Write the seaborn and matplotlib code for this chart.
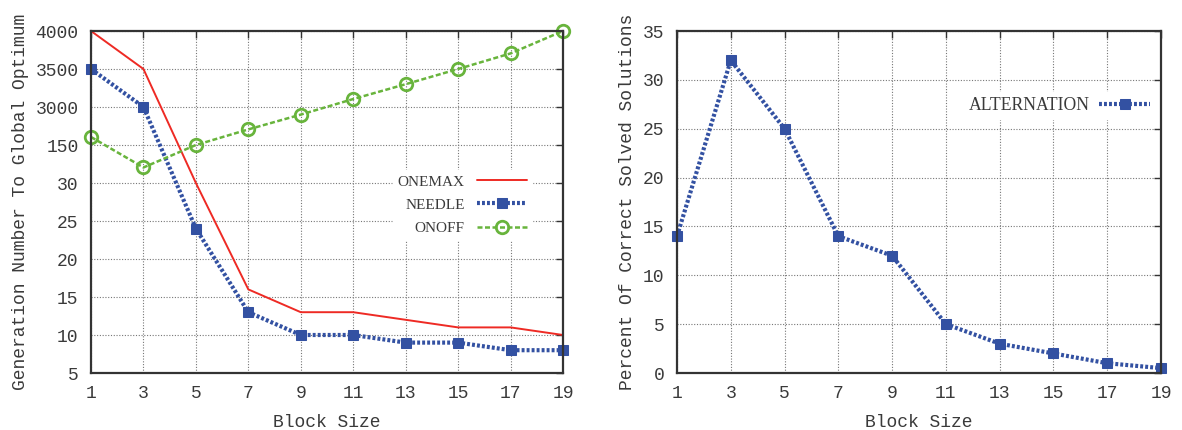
import matplotlib
matplotlib.use("Agg")
import matplotlib.pyplot as plt
import numpy as np
import pandas as pd
import seaborn as sns

# block sizes shared by both panels
block_size = [1, 3, 5, 7, 9, 11, 13, 15, 17, 19]

# left panel: generation number to global optimum (odd gnuplot-style axis)
onemax = [4000, 3500, 30, 16, 13, 13, 12, 11, 11, 10]
needle = [3500, 3000, 24, 13, 10, 10, 9, 9, 8, 8]
onoff = [750, 79, 150, 1320, 2430, 3105, 3300, 3500, 3705, 4000]
left_ticks = [5, 10, 15, 20, 25, 30, 150, 3000, 3500, 4000]

# right panel: percent of correct solved solutions
alternation = [14, 32, 25, 14, 12, 5, 3, 2, 1, 0.5]
right_ticks = [0, 5, 10, 15, 20, 25, 30, 35]

red = "#ee2a24"
blue = "#3351a2"
green = "#68b43c"

sns.set_style("white")
plt.rcParams["font.family"] = ["Liberation Mono", "DejaVu Sans"]
plt.rcParams["text.color"] = "#3a3a3a"
plt.rcParams["axes.labelcolor"] = "#3a3a3a"
plt.rcParams["xtick.color"] = "#333333"
plt.rcParams["ytick.color"] = "#333333"
plt.rcParams["xtick.labelcolor"] = "#3a3a3a"
plt.rcParams["ytick.labelcolor"] = "#3a3a3a"

df_left = pd.DataFrame({"block": block_size, "ONEMAX": onemax, "NEEDLE": needle, "ONOFF": onoff})
df_right = pd.DataFrame({"block": block_size, "ALTERNATION": alternation})

fig = plt.figure(figsize=(11.82, 4.30), dpi=100)
ax1 = fig.add_axes([91 / 1182, 57 / 430, 472 / 1182, 342 / 430])
ax2 = fig.add_axes([677 / 1182, 57 / 430, 484 / 1182, 342 / 430])

# piecewise mapping so each labelled value gets one equal step
tick_pos = np.arange(len(left_ticks), dtype=float)
def fwd(v):
    return np.interp(v, left_ticks, tick_pos)
def inv(p):
    return np.interp(p, tick_pos, left_ticks)

ax1.set_yscale("function", functions=(fwd, inv))

needle_style = dict(lw=3, linestyle=(0, (0.7, 0.5)), marker="s", ms=7,
                    markeredgecolor=blue, markerfacecolor=blue, color=blue)

sns.lineplot(data=df_left, x="block", y="ONEMAX", ax=ax1, color=red, lw=1.4,
             label="ONEMAX", errorbar=None)
sns.lineplot(data=df_left, x="block", y="NEEDLE", ax=ax1, label="NEEDLE",
             errorbar=None, **needle_style)
sns.lineplot(data=df_left, x="block", y="ONOFF", ax=ax1, color=green, lw=1.8,
             linestyle=(0, (2, 1)), marker="o", ms=9, markerfacecolor="none",
             markeredgecolor=green, markeredgewidth=2, label="ONOFF", errorbar=None)

sns.lineplot(data=df_right, x="block", y="ALTERNATION", ax=ax2, label="ALTERNATION",
             errorbar=None, **needle_style)

for ax in (ax1, ax2):
    ax.set_xlim(1, 19)
    ax.set_xticks(block_size)
    ax.set_xlabel("Block Size", fontsize=13, labelpad=8)
    ax.grid(True, linestyle=(0, (1, 1.5)), color="#777777", lw=0.8)
    ax.tick_params(direction="in", length=5, width=1, top=True, right=True,
                   labelsize=13, pad=9)
    for sp in ax.spines.values():
        sp.set_color("#333333")
        sp.set_linewidth(1.6)
    for line in ax.get_lines():
        line.set_clip_on(False)

ax1.set_ylim(5, 4000)
ax1.set_yticks(left_ticks)
ax1.set_yticklabels([str(t) for t in left_ticks])
ax1.minorticks_off()
ax1.set_ylabel("Generation Number To Global Optimum", fontsize=13, labelpad=5)

ax2.set_ylim(0, 35)
ax2.set_yticks(right_ticks)
ax2.set_ylabel("Percent Of Correct Solved Solutions", fontsize=13, labelpad=5)

leg1 = ax1.legend(loc="upper right", bbox_to_anchor=(0.95, 0.615), markerfirst=False,
                  frameon=True, fancybox=False, edgecolor="white", framealpha=1,
                  prop={"family": "Liberation Serif", "size": 11},
                  handlelength=3.3, labelspacing=0.62, borderpad=0.3)
leg2 = ax2.legend(loc="upper right", bbox_to_anchor=(1.007, 0.848), markerfirst=False,
                  frameon=True, fancybox=False, edgecolor="white", framealpha=1,
                  prop={"family": "Liberation Serif", "size": 12.7},
                  handlelength=2.9, handletextpad=0.55, borderpad=0.3)
for leg in (leg1, leg2):
    leg.set_zorder(5)
    for t in leg.get_texts():
        t.set_color("#3a3a3a")

fig.savefig("out.png", dpi=100)
